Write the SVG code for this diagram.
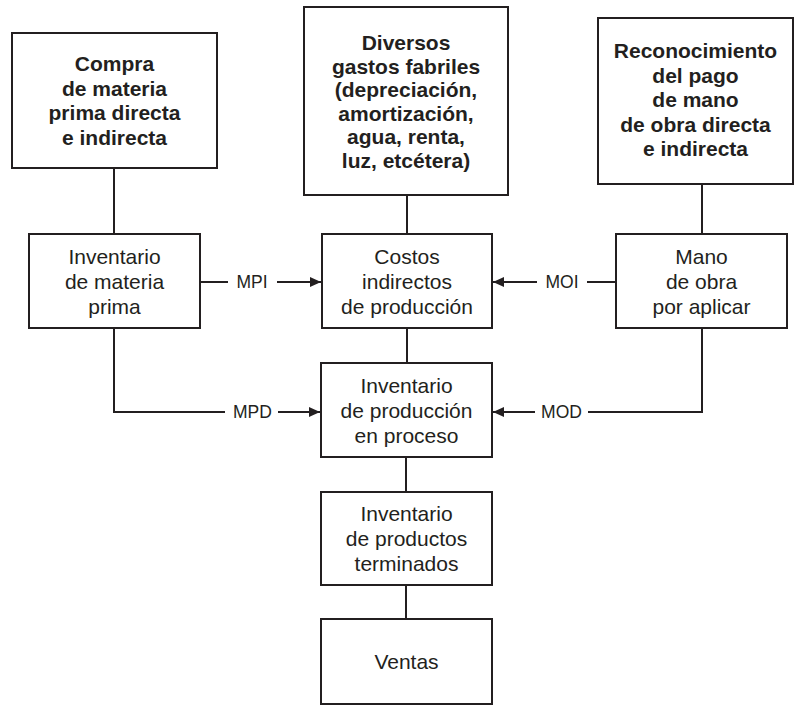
<svg xmlns="http://www.w3.org/2000/svg" width="795" height="714" viewBox="0 0 795 714">
<defs>
<style>
.box{fill:#fff;stroke:#231f20;stroke-width:2}
.ln{fill:none;stroke:#231f20;stroke-width:2}
.t{font-family:"Liberation Sans",Arial,sans-serif;font-size:21px;fill:#231f20;text-anchor:middle}
.b{font-weight:bold}
.lab{font-family:"Liberation Sans",Arial,sans-serif;font-size:17.5px;fill:#231f20;text-anchor:middle}
</style>
<marker id="ah" markerUnits="userSpaceOnUse" markerWidth="12" markerHeight="12" viewBox="0 0 12 12" refX="11" refY="6" orient="auto">
<path d="M0,1 L11,6 L0,11 Z" fill="#231f20"/>
</marker>
</defs>
<rect width="795" height="714" fill="#fff"/>
<g id="connectors">
<line class="ln" x1="114" y1="168" x2="114" y2="234"/>
<line class="ln" x1="407" y1="195" x2="407" y2="234"/>
<line class="ln" x1="702" y1="184" x2="702" y2="234"/>
<line class="ln" x1="200" y1="282" x2="228" y2="282"/>
<line class="ln" x1="277" y1="282" x2="321" y2="282" marker-end="url(#ah)"/>
<line class="ln" x1="616" y1="282" x2="587" y2="282"/>
<line class="ln" x1="537" y1="282" x2="493" y2="282" marker-end="url(#ah)"/>
<line class="ln" x1="407" y1="328" x2="407" y2="363"/>
<polyline class="ln" points="114,328 114,412 225,412"/>
<line class="ln" x1="278" y1="412" x2="320" y2="412" marker-end="url(#ah)"/>
<polyline class="ln" points="702,328 702,412 588,412"/>
<line class="ln" x1="535" y1="412" x2="493" y2="412" marker-end="url(#ah)"/>
<line class="ln" x1="406" y1="457" x2="406" y2="492"/>
<line class="ln" x1="406" y1="585" x2="406" y2="619"/>
<text class="lab" x="252" y="288">MPI</text>
<text class="lab" x="562" y="288">MOI</text>
<text class="lab" x="252.5" y="418">MPD</text>
<text class="lab" x="561.5" y="418">MOD</text>
</g>
<g id="compra">
<rect class="box" x="12" y="33" width="205" height="135"/>
<text class="t b" x="114.5" y="71">Compra</text>
<text class="t b" x="114.5" y="95.5">de materia</text>
<text class="t b" x="114.5" y="120">prima directa</text>
<text class="t b" x="114.5" y="144.5">e indirecta</text>
</g>
<g id="diversos">
<rect class="box" x="304" y="7" width="204" height="188"/>
<text class="t b" x="406" y="50">Diversos</text>
<text class="t b" x="406" y="73.5">gastos fabriles</text>
<text class="t b" x="406" y="97">(depreciación,</text>
<text class="t b" x="406" y="120.5">amortización,</text>
<text class="t b" x="406" y="144">agua, renta,</text>
<text class="t b" x="406" y="167.5">luz, etcétera)</text>
</g>
<g id="reconocimiento">
<rect class="box" x="598" y="18" width="195" height="166"/>
<text class="t b" x="695.5" y="58">Reconocimiento</text>
<text class="t b" x="695.5" y="82.5">del pago</text>
<text class="t b" x="695.5" y="107">de mano</text>
<text class="t b" x="695.5" y="131.5">de obra directa</text>
<text class="t b" x="695.5" y="156">e indirecta</text>
</g>
<g id="inv-mp">
<rect class="box" x="29" y="234" width="171" height="94"/>
<text class="t" x="114.5" y="263.5">Inventario</text>
<text class="t" x="114.5" y="288.5">de materia</text>
<text class="t" x="114.5" y="313.5">prima</text>
</g>
<g id="costos">
<rect class="box" x="322" y="234" width="170" height="94"/>
<text class="t" x="407" y="263.5">Costos</text>
<text class="t" x="407" y="288.5">indirectos</text>
<text class="t" x="407" y="313.5">de producción</text>
</g>
<g id="mano">
<rect class="box" x="616" y="234" width="171" height="94"/>
<text class="t" x="701.5" y="263.5">Mano</text>
<text class="t" x="701.5" y="288.5">de obra</text>
<text class="t" x="701.5" y="313.5">por aplicar</text>
</g>
<g id="inv-proceso">
<rect class="box" x="321" y="363" width="171" height="94"/>
<text class="t" x="406.5" y="392.5">Inventario</text>
<text class="t" x="406.5" y="417.5">de producción</text>
<text class="t" x="406.5" y="442.5">en proceso</text>
</g>
<g id="inv-terminados">
<rect class="box" x="321" y="492" width="171" height="93"/>
<text class="t" x="406.5" y="521">Inventario</text>
<text class="t" x="406.5" y="546">de productos</text>
<text class="t" x="406.5" y="571">terminados</text>
</g>
<g id="ventas">
<rect class="box" x="321" y="619" width="171" height="85"/>
<text class="t" x="406.5" y="669">Ventas</text>
</g>
</svg>
